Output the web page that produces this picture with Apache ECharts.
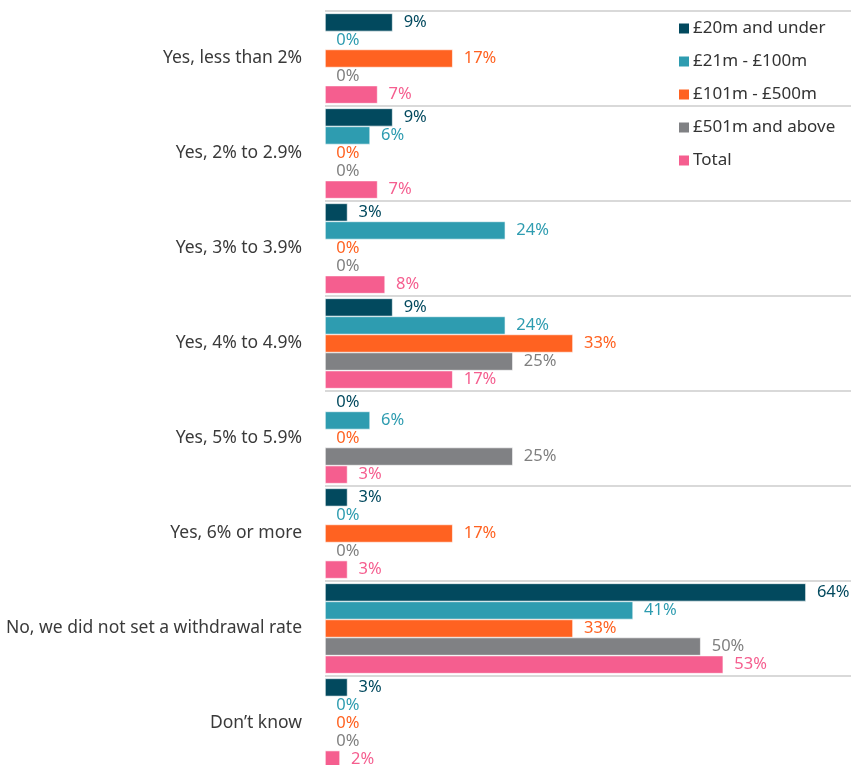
<!DOCTYPE html>
<html>
<head>
<meta charset="utf-8">
<script src="https://cdn.jsdelivr.net/npm/echarts@6/dist/echarts.min.js"></script>
<style>
  html, body { margin: 0; padding: 0; background: #fff; }
  #chart { width: 852px; height: 765px; }
</style>
</head>
<body>
<div id="chart"></div>
<script>
// Withdrawal-rate responses by scheme size
const categories = [
  'Yes, less than 2%',
  'Yes, 2% to 2.9%',
  'Yes, 3% to 3.9%',
  'Yes, 4% to 4.9%',
  'Yes, 5% to 5.9%',
  'Yes, 6% or more',
  'No, we did not set a withdrawal rate',
  'Don\u2019t know'
];
const seriesNames = ['£20m and under', '£21m - £100m', '£101m - £500m', '£501m and above', 'Total'];
const under20m   = [9, 9, 3, 9, 0, 3, 64, 3];
const m21to100   = [0, 6, 24, 24, 6, 0, 41, 0];
const m101to500  = [17, 0, 0, 33, 0, 17, 33, 0];
const m501above  = [0, 0, 0, 25, 25, 0, 50, 0];
const total      = [7, 7, 8, 17, 3, 3, 53, 2];

const seriesValues = [under20m, m21to100, m101to500, m501above, total];
const barColors = ['#02495E', '#2E9CB0', '#FF6221', '#808184', '#F55E8F'];
const labelColors = ['#02495E', '#2E9CB0', '#FF6221', '#808080', '#F55E8F'];

const chart = echarts.init(document.getElementById('chart'));

const series = seriesNames.map((name, i) => ({
  name: name,
  type: 'bar',
  data: seriesValues[i],
  barGap: '0%',
  barCategoryGap: '5%',
  itemStyle: { color: barColors[i], borderColor: '#ffffff', borderWidth: 0.6 },
  label: {
    show: true,
    position: 'right',
    distance: 11,
    formatter: '{c}%',
    color: labelColors[i],
    fontSize: 16.5,
    fontFamily: 'Noto Sans'
  }
}));

chart.setOption({
  animation: false,
  backgroundColor: '#ffffff',
  textStyle: { fontFamily: 'Noto Sans' },
  legend: {
    orient: 'vertical',
    left: 677,
    top: 20,
    padding: 0,
    itemWidth: 12,
    itemHeight: 12,
    itemGap: 16,
    icon: 'rect',
    textStyle: { fontSize: 17, color: '#333333', padding: [0, 0, 0, -2] },
    data: seriesNames
  },
  grid: { left: 325, right: 1, top: 11, height: 760, outerBoundsMode: 'none', containLabel: false },
  xAxis: {
    type: 'value',
    min: 0,
    max: 70,
    show: false
  },
  yAxis: {
    type: 'category',
    inverse: true,
    data: categories,
    axisLine: { show: false },
    axisTick: { show: false },
    axisLabel: { fontSize: 17.5, color: '#3a3a3a', margin: 23 },
    splitLine: { show: true, lineStyle: { color: '#cccccc', width: 1.5 } }
  },
  series: series
});
</script>
</body>
</html>
